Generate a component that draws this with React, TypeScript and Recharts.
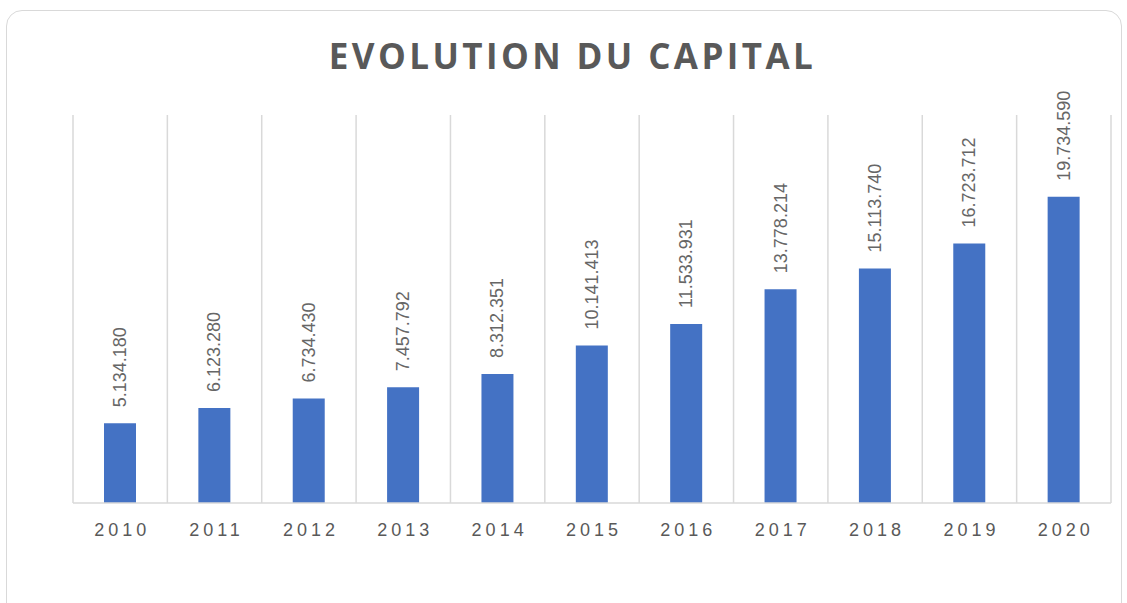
import { Bar, BarChart, CartesianGrid, LabelList, XAxis, YAxis } from "recharts";

const years = ["2010", "2011", "2012", "2013", "2014", "2015", "2016", "2017", "2018", "2019", "2020"];
const capital = [
  5134180, 6123280, 6734430, 7457792, 8312351, 10141413, 11533931, 13778214,
  15113740, 16723712, 19734590,
];

const data = years.map((year, i) => ({ year, capital: capital[i] }));

const GREY = "#595959";
const fmt = (v: number) => v.toString().replace(/\B(?=(\d{3})+(?!\d))/g, ".");

function ValueLabel(props: any) {
  const { x, y, width, value } = props;
  const cx = x + width / 2;
  const ty = y - 16;
  return (
    <text
      x={cx}
      y={ty}
      transform={`rotate(-90 ${cx} ${ty})`}
      textAnchor="start"
      dominantBaseline="central"
      fill="#666"
      fontSize={18}
      fontFamily="Liberation Sans, Arial, sans-serif"
    >
      {fmt(value)}
    </text>
  );
}

export default function App() {
  return (
    <div
      style={{
        position: "fixed",
        left: 0,
        top: 0,
        width: 1127,
        height: 603,
        background: "#fff",
        overflow: "hidden",
      }}
    >
      <div
        style={{
          position: "absolute",
          left: 6,
          top: 10,
          width: 1114,
          height: 640,
          border: "1.5px solid #d9d9d9",
          borderRadius: 16,
        }}
      />
      <div
        style={{
          position: "absolute",
          left: 0,
          top: 32,
          width: 1145,
          textAlign: "center",
          fontFamily: "Open Sans, sans-serif",
          fontWeight: 700,
          fontSize: 35,
          letterSpacing: 3.4,
          color: GREY,
        }}
      >
        EVOLUTION DU CAPITAL
      </div>
      <div style={{ position: "absolute", left: 0, top: 0 }}>
        <BarChart
          width={1127}
          height={603}
          data={data}
          margin={{ left: 73, right: 16, top: 115, bottom: 70 }}
          barSize={32}
        >
          <CartesianGrid
            horizontal={false}
            stroke="#d9d9d9"
            strokeWidth={1.5}
            verticalCoordinatesGenerator={({ offset }: any) =>
              Array.from(
                { length: years.length + 1 },
                (_, i) => offset.left + (i * offset.width) / years.length
              )
            }
          />
          <YAxis hide domain={[0, 25000000]} />
          <XAxis
            dataKey="year"
            tickLine={false}
            axisLine={{ stroke: "#d9d9d9", strokeWidth: 1.5 }}
            tick={{
              fill: GREY,
              fontSize: 18,
              letterSpacing: 4,
              dx: 2,
              fontFamily: "Liberation Sans, Arial, sans-serif",
            }}
            tickMargin={14}
          />
          <Bar dataKey="capital" fill="#4472C4" isAnimationActive={false}>
            <LabelList dataKey="capital" content={<ValueLabel />} />
          </Bar>
        </BarChart>
      </div>
    </div>
  );
}
